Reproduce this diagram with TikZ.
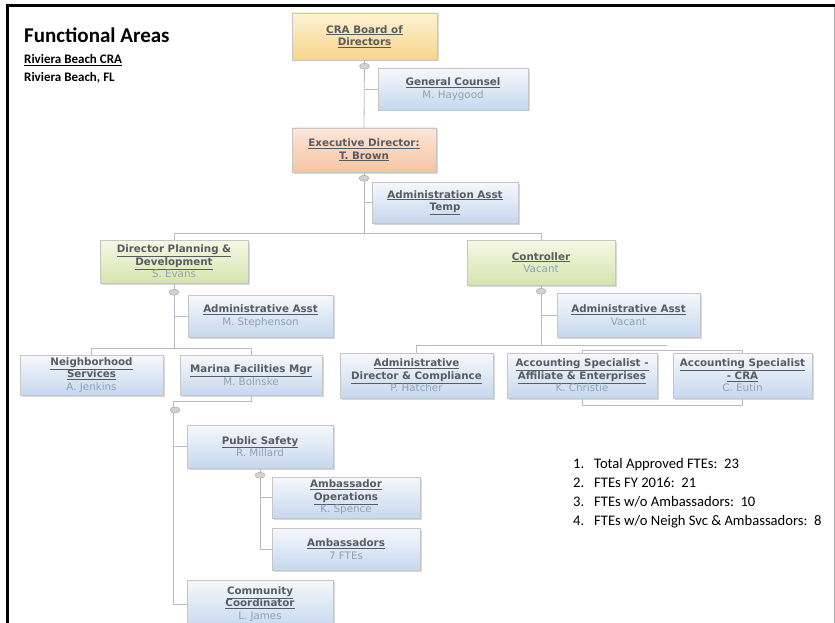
\documentclass[tikz,border=0pt]{standalone}
\usepackage{fontspec}
\setmainfont{Carlito}
\newfontfamily\boxfont{DejaVu Sans}
\usetikzlibrary{shapes.geometric,shadows}
\definecolor{ttl}{HTML}{575C63}
\definecolor{nmc}{HTML}{8FA0B6}
\definecolor{lnc}{HTML}{B8BCC2}
\definecolor{bluetop}{HTML}{F6F8FC}
\definecolor{bluebot}{HTML}{C6D8EE}
\definecolor{greentop}{HTML}{F6F8E4}
\definecolor{greenbot}{HTML}{D5E4AE}
\definecolor{oratop}{HTML}{FDF2D2}
\definecolor{orabot}{HTML}{F8D48A}
\definecolor{peatop}{HTML}{FCE6D8}
\definecolor{peabot}{HTML}{F7C4A2}
\newcommand{\ttlu}[1]{\underline{#1}}
\newcommand{\persname}[1]{{\mdseries\color{nmc}#1}}
\tikzset{
  orgbox/.style={draw=gray!45, line width=0.5pt, align=center, inner sep=1pt,
    font=\boxfont\fontsize{10.3}{12.6}\selectfont\bfseries, text=ttl,
    drop shadow={opacity=0.3, shadow xshift=1.5pt, shadow yshift=-1.5pt}},
  bluebox/.style={orgbox, top color=bluetop, bottom color=bluebot},
  greenbox/.style={orgbox, top color=greentop, bottom color=greenbot},
  orabox/.style={orgbox, top color=oratop, bottom color=orabot},
  peabox/.style={orgbox, top color=peatop, bottom color=peabot},
  conn/.style={draw=lnc, line width=0.8pt},
  collapsemk/.style={ellipse, draw=gray!70, fill=gray!35, line width=0.4pt,
    minimum width=10pt, minimum height=6pt, inner sep=0pt},
  legend/.style={anchor=base west, inner sep=0pt, font=\fontsize{14.6}{19}\selectfont}
}
\begin{document}
\begin{tikzpicture}[x=1pt,y=-1pt]
\useasboundingbox (0,0) rectangle (835,623);
\fill[white] (0,0) rectangle (835,623);
% frame
\draw[line width=3pt] (7.5,623) -- (7.5,5.5) -- (835,5.5);
\draw[gray!60, line width=1pt] (834,7) -- (834,623);
% heading
\node[anchor=base west, inner sep=0pt, font=\fontsize{21}{25}\selectfont\bfseries] (title) at (24,43) {Functional Areas};
\node[anchor=base west, inner sep=0pt, font=\fontsize{13}{15}\selectfont\bfseries] (sub1) at (24,64) {\underline{Riviera Beach CRA}};
\node[anchor=base west, inner sep=0pt, font=\fontsize{13}{15}\selectfont\bfseries] (sub2) at (24,82) {Riviera Beach, FL};
% boxes
\node[orabox, minimum width=145pt, minimum height=47pt] (board) at (364.5,36.5) {\ttlu{CRA Board of}\\\ttlu{Directors}};
\node[bluebox, minimum width=150pt, minimum height=42pt] (counsel) at (453,89) {\ttlu{General Counsel}\\\persname{M. Haygood}};
\node[peabox, minimum width=144pt, minimum height=44pt] (exec) at (364,150) {\ttlu{Executive Director:}\\\ttlu{T. Brown}};
\node[bluebox, minimum width=146pt, minimum height=41pt] (temp) at (445,202.5) {\ttlu{Administration Asst}\\\ttlu{Temp}};
\node[greenbox, minimum width=148pt, minimum height=43pt] (dirplan) at (174,261.5) {\ttlu{Director Planning \&}\\\ttlu{Development}\\\persname{S. Evans}};
\node[bluebox, minimum width=145pt, minimum height=42pt] (steph) at (260.5,316) {\ttlu{Administrative Asst}\\\persname{M. Stephenson}};
\node[bluebox, minimum width=143pt, minimum height=40pt] (neigh) at (91.5,375) {\ttlu{Neighborhood}\\\ttlu{Services}\\\persname{A. Jenkins}};
\node[bluebox, minimum width=142pt, minimum height=40pt] (marina) at (251,375) {\ttlu{Marina Facilities Mgr}\\\persname{M. Bolnske}};
\node[greenbox, minimum width=148pt, minimum height=45pt] (controller) at (541,262.5) {\ttlu{Controller}\\\persname{Vacant}};
\node[bluebox, minimum width=143pt, minimum height=44pt] (vacant) at (628.5,315) {\ttlu{Administrative Asst}\\\persname{Vacant}};
\node[bluebox, minimum width=153pt, minimum height=45pt] (admindir) at (416.5,375.5) {\ttlu{Administrative}\\\ttlu{Director \& Compliance}\\\persname{P. Hatcher}};
\node[bluebox, minimum width=150pt, minimum height=45pt] (acctaff) at (582,375.5) {\ttlu{Accounting Specialist -}\\\ttlu{Affiliate \& Enterprises}\\\persname{K. Christie}};
\node[bluebox, minimum width=139pt, minimum height=45pt] (acctcra) at (742.5,375.5) {\ttlu{Accounting Specialist}\\\ttlu{- CRA}\\\persname{C. Eutin}};
\node[bluebox, minimum width=146pt, minimum height=43pt] (pubsafety) at (260,446.5) {\ttlu{Public Safety}\\\persname{R. Millard}};
\node[bluebox, minimum width=148pt, minimum height=41pt] (ambops) at (346,497.5) {\ttlu{Ambassador}\\\ttlu{Operations}\\\persname{K. Spence}};
\node[bluebox, minimum width=148pt, minimum height=42pt] (amb) at (346,549) {\ttlu{Ambassadors}\\\persname{7 FTEs}};
\node[bluebox, minimum width=146pt, minimum height=48pt] (commcoord) at (260,604) {\ttlu{Community}\\\ttlu{Coordinator}\\\persname{L. James}};
% bus coordinates
\coordinate (b1) at (364,233);
\coordinate (b2) at (174,348);
\coordinate (b3) at (541,345);
\coordinate (b3e) at (667,345);
\coordinate (m1) at (173,401);
% connectors
\draw[conn] (board.south) -- (exec.north);
\draw[conn] (board.south |- counsel.west) -- (counsel.west);
\draw[conn] (exec.south) -- (b1);
\draw[conn] (exec.south |- temp.west) -- (temp.west);
\draw[conn] (dirplan.north) -- (dirplan.north |- b1) -- (controller.north |- b1) -- (controller.north);
\draw[conn] (dirplan.south) -- (b2);
\draw[conn] (dirplan.south |- steph.west) -- (steph.west);
\draw[conn] (neigh.north) -- (neigh.north |- b2) -- (marina.north |- b2) -- (marina.north);
\draw[conn] (controller.south) -- (b3);
\draw[conn] (controller.south |- vacant.west) -- (vacant.west);
\draw[conn] (admindir.north) -- (admindir.north |- b3) -- (b3e);
\draw[conn] (acctaff.north) -- (acctaff.north |- 0,350) -- (acctcra.north |- 0,350) -- (acctcra.north);
\draw[conn] (acctaff.south) -- (acctaff.south |- 0,405) -- (acctcra.south |- 0,405) -- (acctcra.south);
\draw[conn] (marina.south) |- (m1);
\draw[conn] (m1) |- (commcoord.west);
\draw[conn] (m1 |- pubsafety.west) -- (pubsafety.west);
\draw[conn] (pubsafety.south) |- (amb.west);
\draw[conn] (pubsafety.south |- ambops.west) -- (ambops.west);
% collapse markers
\node[collapsemk] (mk1) at ([yshift=-6pt]board.south) {};
\node[collapsemk] (mk2) at ([yshift=-6pt]exec.south) {};
\node[collapsemk] (mk3) at ([yshift=-9pt]dirplan.south) {};
\node[collapsemk] (mk4) at ([yshift=-6pt]controller.south) {};
\node[collapsemk] (mk5) at (175,410) {};
\node[collapsemk] (mk6) at ([yshift=-7pt]pubsafety.south) {};
% legend
\node[legend] (l1) at (573,468) {\makebox[21pt][l]{1.}Total Approved FTEs:\ \ 23};
\node[legend] (l2) at (573,487) {\makebox[21pt][l]{2.}FTEs FY 2016:\ \ 21};
\node[legend] (l3) at (573,506) {\makebox[21pt][l]{3.}FTEs w/o Ambassadors:\ \ 10};
\node[legend] (l4) at (573,525) {\makebox[21pt][l]{4.}FTEs w/o Neigh Svc \& Ambassadors:\ \ 8};
\end{tikzpicture}
\end{document}
